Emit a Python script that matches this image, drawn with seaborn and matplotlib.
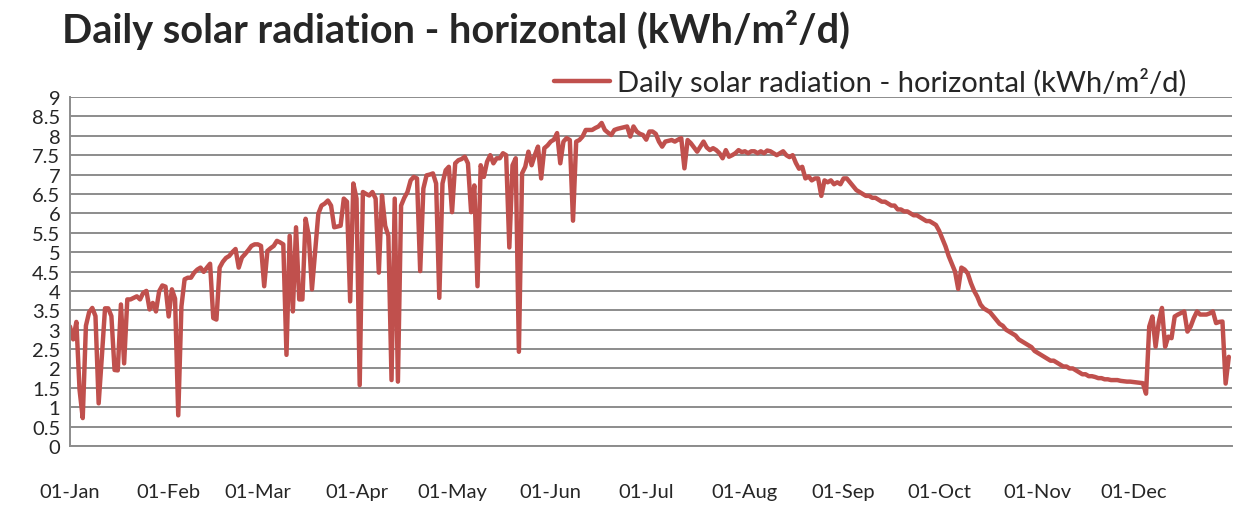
import matplotlib
matplotlib.use("Agg")
import matplotlib.pyplot as plt
import pandas as pd
import seaborn as sns

# daily values, one list per month
jan = [3.08, 2.75, 3.2, 1.45, 0.72, 3.1, 3.45, 3.56, 3.35, 1.1, 2.3, 3.55, 3.55, 3.35, 1.96, 1.95,
       3.65, 2.13, 3.78, 3.78, 3.82, 3.86, 3.78, 3.95, 4.0, 3.52, 3.69, 3.47, 3.99, 4.14, 4.11]
feb = [3.34, 4.04, 3.8, 0.79, 3.6, 4.3, 4.34, 4.34, 4.47, 4.55, 4.6, 4.49, 4.6, 4.7, 3.3, 3.26,
       4.6, 4.75, 4.85, 4.9, 5.0, 5.08, 4.6, 4.86, 4.95, 5.05, 5.16, 5.2]
mar = [5.2, 5.16, 4.12, 5.03, 5.1, 5.16, 5.29, 5.25, 5.2, 2.35, 5.42, 3.47, 5.64, 3.78, 3.78, 5.86,
       5.42, 4.04, 5.0, 5.99, 6.2, 6.25, 6.33, 6.2, 5.64, 5.66, 5.68, 6.38, 6.3, 3.73, 6.77]
apr = [6.38, 1.57, 6.55, 6.5, 6.46, 6.55, 6.38, 4.47, 6.46, 5.68, 5.42, 1.7, 6.38, 1.66, 6.2, 6.4,
       6.55, 6.85, 6.94, 6.9, 4.51, 6.64, 6.98, 7.0, 7.03, 6.77, 3.82, 6.77, 7.11, 7.2]
may = [6.03, 7.29, 7.37, 7.4, 7.46, 7.29, 6.03, 6.72, 4.12, 7.24, 6.94, 7.33, 7.5, 7.29, 7.42, 7.42,
       7.55, 7.5, 5.12, 7.24, 7.42, 2.43, 7.03, 7.2, 7.59, 7.24, 7.5, 7.72, 6.9, 7.68, 7.75]
jun = [7.85, 7.9, 8.07, 7.29, 7.85, 7.94, 7.89, 5.81, 7.85, 7.89, 7.98, 8.15, 8.15, 8.15, 8.2, 8.24,
       8.33, 8.15, 8.08, 8.02, 8.15, 8.18, 8.2, 8.22, 8.24, 7.98, 8.24, 8.11, 8.05, 8.02]
jul = [7.9, 8.11, 8.11, 8.05, 7.85, 7.72, 7.85, 7.87, 7.89, 7.85, 7.9, 7.94, 7.16, 7.89, 7.81, 7.7,
       7.59, 7.72, 7.85, 7.7, 7.63, 7.68, 7.63, 7.55, 7.42, 7.63, 7.46, 7.5, 7.55, 7.63, 7.58]
aug = [7.6, 7.55, 7.6, 7.6, 7.55, 7.6, 7.55, 7.62, 7.6, 7.55, 7.5, 7.55, 7.6, 7.5, 7.45, 7.5,
       7.3, 7.15, 7.2, 6.9, 6.95, 6.85, 6.9, 6.9, 6.45, 6.85, 6.8, 6.85, 6.75, 6.8, 6.75]
sep = [6.9, 6.9, 6.8, 6.7, 6.6, 6.55, 6.5, 6.45, 6.45, 6.4, 6.4, 6.35, 6.3, 6.3, 6.25, 6.2,
       6.2, 6.1, 6.1, 6.05, 6.05, 6.0, 5.95, 5.95, 5.9, 5.85, 5.8, 5.8, 5.75, 5.7]
oct_ = [5.55, 5.35, 5.15, 4.9, 4.7, 4.5, 4.05, 4.6, 4.55, 4.45, 4.2, 4.0, 3.85, 3.65, 3.55, 3.5,
        3.45, 3.35, 3.25, 3.15, 3.1, 3.0, 2.95, 2.9, 2.85, 2.75, 2.7, 2.65, 2.6, 2.55, 2.45]
nov = [2.4, 2.35, 2.3, 2.25, 2.2, 2.2, 2.15, 2.1, 2.05, 2.05, 2.0, 2.0, 1.95, 1.9, 1.85, 1.85,
       1.8, 1.8, 1.78, 1.75, 1.75, 1.72, 1.72, 1.7, 1.7, 1.7, 1.68, 1.67, 1.66, 1.66]
dec = [1.65, 1.64, 1.63, 1.62, 1.35, 3.08, 3.34, 2.56, 3.2, 3.56, 2.56, 2.82, 2.78, 3.34, 3.39, 3.43,
       3.47, 2.95, 3.08, 3.3, 3.47, 3.39, 3.39, 3.39, 3.42, 3.47, 3.17, 3.2, 3.21, 1.61, 2.3]

month_labels = ["01-Jan", "01-Feb", "01-Mar", "01-Apr", "01-May", "01-Jun",
                "01-Jul", "01-Aug", "01-Sep", "01-Oct", "01-Nov", "01-Dec"]
series_name = "Daily solar radiation - horizontal (kWh/m²/d)"

months = [jan, feb, mar, apr, may, jun, jul, aug, sep, oct_, nov, dec]
values = [v for m in months for v in m]
df = pd.DataFrame({"day": range(len(values)), "value": values})

month_starts = [0]
for m in months:
    month_starts.append(month_starts[-1] + len(m))

sns.set_style("white")
plt.rcParams["font.family"] = ["Lato", "DejaVu Sans"]

grid_col = "#8c8c8c"
fig = plt.figure(figsize=(12.34, 5.06), dpi=100)
ax = fig.add_axes([70 / 1234, 1 - 447 / 506, (1232 - 70) / 1234, (447 - 98) / 506])

sns.lineplot(data=df, x="day", y="value", ax=ax, color="#C0504D", linewidth=3.2,
             label=series_name)

ax.set_xlim(0, month_starts[-1])
ax.set_ylim(0, 9)
ax.set_yticks([i * 0.5 for i in range(19)])
ax.set_yticklabels([f"{i * 0.5:g}" for i in range(19)], fontsize=14.5)
ax.set_xticks(month_starts)
ax.set_xticklabels(month_labels + [""], fontsize=14.5)
ax.set_xlabel("")
ax.set_ylabel("")

ax.yaxis.grid(True, color=grid_col, linewidth=1.4)
ax.set_axisbelow(True)
for side in ["top", "right"]:
    ax.spines[side].set_visible(False)
for side in ["left", "bottom"]:
    ax.spines[side].set_color(grid_col)
    ax.spines[side].set_linewidth(1.4)
ax.tick_params(axis="y", direction="out", length=5, width=1.4, color=grid_col, pad=2)
ax.tick_params(axis="x", direction="out", length=5, width=1.4, color=grid_col, pad=22)

leg = ax.legend(loc="center right", bbox_to_anchor=(1201 / 1234, 1 - 83 / 506),
                bbox_transform=fig.transFigure, frameon=False, fontsize=21,
                handlelength=1.9, handletextpad=0.25, borderpad=0)

fig.text(62 / 1234, 1 - 30 / 506, series_name, fontsize=28.5, fontweight="bold",
         ha="left", va="center")

fig.savefig("out.png", dpi=100)
